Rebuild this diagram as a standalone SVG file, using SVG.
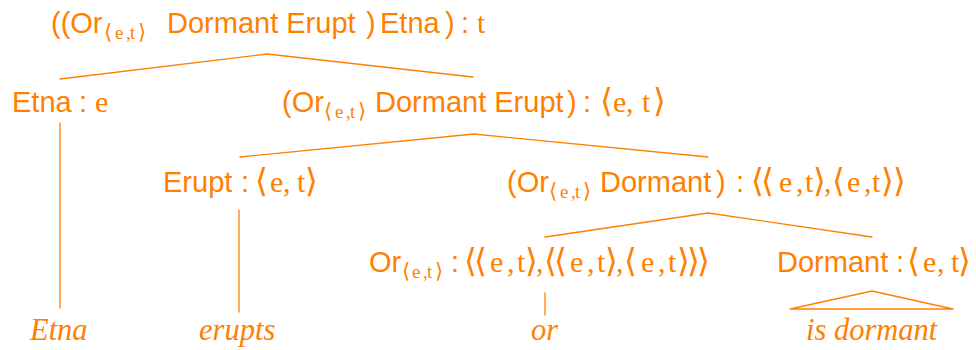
<svg xmlns="http://www.w3.org/2000/svg" width="976" height="350" viewBox="0 0 976 350">
  <style>
    text { fill: #ff8000; }
    .sf { font-family: "Liberation Sans", Arial, sans-serif; font-size: 29px; }
    .mt { font-family: "Liberation Serif", "DejaVu Serif", serif; font-size: 30px; }
    .sub { font-family: "Liberation Serif", "DejaVu Serif", serif; font-size: 19px; }
    .ab { font-family: "DejaVu Sans", sans-serif; font-size: 33px; }
    .abs { font-family: "DejaVu Sans", sans-serif; font-size: 21px; }
    .leaf { font-family: "Liberation Serif", "Times New Roman", serif; font-style: italic; font-size: 30.5px; }
    .edge { stroke: #ff8000; stroke-width: 1.3; fill: none; stroke-linecap: round; stroke-linejoin: round; }
  </style>

  <!-- tree branches -->
  <g id="connectors">
    <polyline class="edge" points="60,79 267,54 473,77"/>
    <polyline class="edge" points="240,157 474,134 708,157"/>
    <polyline class="edge" points="545,237 708,213 872,237"/>
    <line class="edge" x1="60" y1="123" x2="60" y2="308"/>
    <line class="edge" x1="239" y1="210" x2="239" y2="312"/>
    <line class="edge" x1="545" y1="293" x2="545" y2="315"/>
    <polygon class="edge" points="790,309 872,291 953,309"/>
  </g>

  <!-- root: t -->
  <g id="node-root">
    <text class="sf" x="51" y="33">((Or</text>
    <text class="sub" x="104 115 126 130 138" y="39"><tspan class="abs">⟨</tspan>e,t<tspan class="abs">⟩</tspan></text>
    <text class="sf" x="167" y="33">Dormant Erupt</text>
    <text class="sf" x="366" y="33">)</text>
    <text class="sf" x="380" y="33">Etna</text>
    <text class="sf" x="445" y="33">)</text>
    <text class="sf" x="461" y="33">:</text>
    <text class="mt" x="477" y="33">t</text>
  </g>

  <!-- Etna : e -->
  <g id="node-etna">
    <text class="sf" x="12" y="112">Etna</text>
    <text class="sf" x="79" y="112">:</text>
    <text class="mt" x="95" y="112">e</text>
  </g>

  <!-- (Or Dormant Erupt) : <e,t> -->
  <g id="node-or-dormant-erupt">
    <text class="sf" x="282" y="112">(Or</text>
    <text class="sub" x="324 335 346 350 358" y="118"><tspan class="abs">⟨</tspan>e,t<tspan class="abs">⟩</tspan></text>
    <text class="sf" x="375" y="112">Dormant Erupt</text>
    <text class="sf" x="567" y="112">)</text>
    <text class="sf" x="583" y="112">:</text>
    <text class="mt" x="600 613 626 631 642 653" y="112"><tspan class="ab">⟨</tspan>e, t<tspan class="ab">⟩</tspan></text>
  </g>

  <!-- Erupt : <e,t> -->
  <g id="node-erupt">
    <text class="sf" x="163" y="192">Erupt</text>
    <text class="sf" x="241" y="192">:</text>
    <text class="mt" x="255 270 283 288 297 305" y="192"><tspan class="ab">⟨</tspan>e, t<tspan class="ab">⟩</tspan></text>
  </g>

  <!-- (Or Dormant) : <<e,t>,<e,t>> -->
  <g id="node-or-dormant">
    <text class="sf" x="507" y="192">(Or</text>
    <text class="sub" x="549 560 571 575 583" y="198"><tspan class="abs">⟨</tspan>e,t<tspan class="abs">⟩</tspan></text>
    <text class="sf" x="600" y="192">Dormant</text>
    <text class="sf" x="716" y="192">)</text>
    <text class="sf" x="736" y="192">:</text>
    <text class="mt" x="751 761 779 796 801 805 813 824 832 847 864 869 872 881 893" y="192"><tspan class="ab">⟨⟨</tspan>e, t<tspan class="ab">⟩</tspan>,<tspan class="ab">⟨</tspan>e, t<tspan class="ab">⟩⟩</tspan></text>
  </g>

  <!-- Or : <<e,t>,<<e,t>,<e,t>>> -->
  <g id="node-or">
    <text class="sf" x="369" y="272">Or</text>
    <text class="sub" x="402 412 423 427 435" y="278"><tspan class="abs">⟨</tspan>e,t<tspan class="abs">⟩</tspan></text>
    <text class="sf" x="451" y="272">:</text>
    <text class="mt" x="464 474 490 507 512 517 525 536 544 554 570 587 592 597 605 616 624 641 658 663 668 677 687 697" y="272"><tspan class="ab">⟨⟨</tspan>e, t<tspan class="ab">⟩</tspan>,<tspan class="ab">⟨⟨</tspan>e, t<tspan class="ab">⟩</tspan>,<tspan class="ab">⟨</tspan>e, t<tspan class="ab">⟩⟩⟩</tspan></text>
  </g>

  <!-- Dormant : <e,t> -->
  <g id="node-dormant">
    <text class="sf" x="777" y="272">Dormant</text>
    <text class="sf" x="896" y="272">:</text>
    <text class="mt" x="907 923 937 942 951 958" y="272"><tspan class="ab">⟨</tspan>e, t<tspan class="ab">⟩</tspan></text>
  </g>

  <!-- lexical items -->
  <g id="leaf-etna"><text class="leaf" x="30" y="340">Etna</text></g>
  <g id="leaf-erupts"><text class="leaf" x="199" y="340">erupts</text></g>
  <g id="leaf-or"><text class="leaf" x="531" y="340">or</text></g>
  <g id="leaf-is-dormant"><text class="leaf" x="806" y="340">is dormant</text></g>
</svg>
